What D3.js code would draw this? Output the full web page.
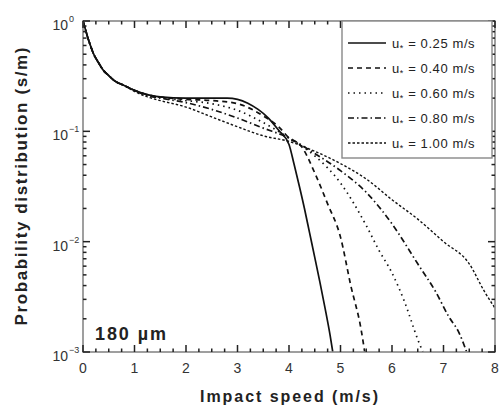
<!DOCTYPE html>
<html>
<head>
<meta charset="utf-8">
<script src="https://cdn.jsdelivr.net/npm/d3@7"></script>
<style>
  html, body { margin: 0; padding: 0; background: #fff; }
  svg { display: block; font-family: "Liberation Sans", Arial, sans-serif; }
</style>
</head>
<body>
<svg id="chart" width="501" height="408"></svg>
<script>
// Impact speed distribution of 180 µm grains for several friction velocities
const frictionVelocities = ["0.25", "0.40", "0.60", "0.80", "1.00"];

const speeds025 = [0, 0.05, 0.1, 0.15, 0.2, 0.3, 0.4, 0.5, 0.6, 0.8, 1.0, 1.25, 1.5, 2.0, 2.5, 2.8, 3.0, 3.2, 3.4, 3.6, 3.8, 4.0, 4.1, 4.2, 4.3, 4.4, 4.5, 4.6, 4.7, 4.8, 4.85];
const prob025   = [1.0, 0.83, 0.69, 0.59, 0.51, 0.42, 0.355, 0.32, 0.29, 0.26, 0.235, 0.215, 0.205, 0.20, 0.20, 0.20, 0.195, 0.18, 0.158, 0.132, 0.102, 0.076, 0.050, 0.032, 0.020, 0.012, 0.0072, 0.0043, 0.0025, 0.0014, 0.001];

const speeds040 = [0, 0.05, 0.1, 0.15, 0.2, 0.3, 0.4, 0.5, 0.6, 0.8, 1.0, 1.25, 1.5, 2.0, 2.5, 3.0, 3.5, 3.8, 4.0, 4.25, 4.5, 4.75, 5.0, 5.2, 5.4, 5.47];
const prob040   = [1.0, 0.83, 0.69, 0.59, 0.51, 0.42, 0.355, 0.32, 0.29, 0.26, 0.235, 0.215, 0.205, 0.195, 0.19, 0.178, 0.138, 0.11, 0.087, 0.072, 0.042, 0.022, 0.011, 0.004, 0.0016, 0.001];

const speeds060 = [0, 0.05, 0.1, 0.15, 0.2, 0.3, 0.4, 0.5, 0.6, 0.8, 1.0, 1.25, 1.5, 2.0, 2.5, 3.0, 3.5, 4.0, 4.5, 5.0, 5.5, 5.75, 6.0, 6.25, 6.5, 6.6];
const prob060   = [1.0, 0.83, 0.69, 0.59, 0.51, 0.42, 0.355, 0.32, 0.29, 0.26, 0.235, 0.215, 0.203, 0.19, 0.178, 0.155, 0.12, 0.087, 0.06, 0.034, 0.014, 0.0083, 0.0052, 0.0028, 0.0013, 0.001];

const speeds080 = [0, 0.05, 0.1, 0.15, 0.2, 0.3, 0.4, 0.5, 0.6, 0.8, 1.0, 1.25, 1.5, 2.0, 2.5, 3.0, 3.5, 4.0, 4.5, 5.0, 5.5, 6.0, 6.5, 6.85, 7.1, 7.3, 7.45];
const prob080   = [1.0, 0.83, 0.69, 0.59, 0.51, 0.42, 0.355, 0.32, 0.29, 0.26, 0.235, 0.21, 0.20, 0.182, 0.158, 0.132, 0.107, 0.087, 0.063, 0.044, 0.028, 0.0145, 0.0063, 0.0035, 0.0021, 0.0015, 0.001];

const speeds100 = [0, 0.05, 0.1, 0.15, 0.2, 0.3, 0.4, 0.5, 0.6, 0.8, 1.0, 1.25, 1.5, 2.0, 2.5, 3.0, 3.5, 4.0, 4.5, 5.0, 5.5, 6.0, 6.5, 7.0, 7.5, 7.8, 8.0];
const prob100   = [1.0, 0.83, 0.69, 0.59, 0.51, 0.42, 0.355, 0.32, 0.29, 0.26, 0.23, 0.205, 0.19, 0.166, 0.135, 0.11, 0.091, 0.081, 0.066, 0.051, 0.037, 0.024, 0.016, 0.010, 0.0063, 0.0035, 0.0025];

const xTicks = [0, 1, 2, 3, 4, 5, 6, 7, 8];
const yTickExponents = [0, -1, -2, -3];

const series = [
  { u: frictionVelocities[0], x: speeds025, y: prob025, dash: null, width: 1.7 },
  { u: frictionVelocities[1], x: speeds040, y: prob040, dash: "5,4", width: 1.7 },
  { u: frictionVelocities[2], x: speeds060, y: prob060, dash: "1.5,4", width: 1.7 },
  { u: frictionVelocities[3], x: speeds080, y: prob080, dash: "6,3,1.5,3", width: 1.7 },
  { u: frictionVelocities[4], x: speeds100, y: prob100, dash: "2.5,2", width: 1.4 }
];

const svg = d3.select("#chart");
const plotLeft = 83, plotRight = 495, plotTop = 21, plotBottom = 352;

const x = d3.scaleLinear().domain([0, 8]).range([plotLeft, plotRight]);
const y = d3.scaleLog().domain([1e-3, 1]).range([plotBottom, plotTop]);

const frameColor = "#888";
const tickColor = "#222";

// Curves
const line = d3.line().x(d => x(d[0])).y(d => y(d[1])).curve(d3.curveMonotoneX);
svg.append("clipPath").attr("id", "plot-clip")
  .append("rect").attr("x", plotLeft).attr("y", plotTop - 2)
  .attr("width", plotRight - plotLeft).attr("height", plotBottom - plotTop + 2);

const curves = svg.append("g").attr("clip-path", "url(#plot-clip)");
series.forEach(s => {
  curves.append("path")
    .datum(d3.zip(s.x, s.y))
    .attr("d", line)
    .attr("fill", "none")
    .attr("stroke", "#111")
    .attr("stroke-width", s.width)
    .attr("stroke-dasharray", s.dash);
});

// Plot frame
svg.append("rect")
  .attr("x", plotLeft).attr("y", plotTop)
  .attr("width", plotRight - plotLeft).attr("height", plotBottom - plotTop)
  .attr("fill", "none").attr("stroke", frameColor).attr("stroke-width", 1.6);

// Inward ticks on all four sides, drawn as small rects so they stay crisp
const minorX = d3.range(0, 8.001, 0.25).filter(v => Math.abs(v - Math.round(v)) > 1e-6);
const majorY = yTickExponents.map(e => Math.pow(10, e));
const minorY = [];
for (let e = -3; e < 0; e++) for (let m = 2; m <= 9; m++) minorY.push(m * Math.pow(10, e));

const tickG = svg.append("g").attr("fill", tickColor);
function vTicks(values, len) {
  values.forEach(v => {
    tickG.append("rect").attr("x", x(v) - 0.75).attr("y", plotBottom - len).attr("width", 1.5).attr("height", len);
    tickG.append("rect").attr("x", x(v) - 0.75).attr("y", plotTop).attr("width", 1.5).attr("height", len);
  });
}
function hTicks(values, len) {
  values.forEach(v => {
    tickG.append("rect").attr("x", plotLeft).attr("y", y(v) - 0.75).attr("width", len).attr("height", 1.5);
    tickG.append("rect").attr("x", plotRight - len).attr("y", y(v) - 0.75).attr("width", len).attr("height", 1.5);
  });
}
vTicks(xTicks, 7);
vTicks(minorX, 3.5);
hTicks(majorY, 7);
hTicks(minorY, 3.5);

// X tick labels
svg.append("g").selectAll("text").data(xTicks).join("text")
  .attr("x", d => x(d)).attr("y", plotBottom + 21)
  .attr("text-anchor", "middle")
  .attr("font-size", 14).attr("fill", "#333")
  .text(d => d);

// Y tick labels as powers of ten
const yl = svg.append("g");
yTickExponents.forEach(e => {
  const yy = y(Math.pow(10, e));
  yl.append("text")
    .attr("x", plotLeft - 15).attr("y", yy + 9)
    .attr("text-anchor", "end")
    .attr("font-size", 14).attr("fill", "#333")
    .text("10");
  yl.append("text")
    .attr("x", plotLeft - 14).attr("y", yy + 1)
    .attr("font-size", 9).attr("fill", "#333")
    .text(e === 0 ? "0" : "\u2212" + Math.abs(e));
});

// Axis titles
svg.append("text")
  .attr("x", (plotLeft + plotRight) / 2).attr("y", 402)
  .attr("text-anchor", "middle")
  .attr("font-size", 16).attr("font-weight", "bold").attr("fill", "#222")
  .attr("textLength", 178).attr("lengthAdjust", "spacing")
  .text("Impact speed (m/s)");

svg.append("text")
  .attr("transform", `translate(27,${(plotTop + plotBottom) / 2}) rotate(-90)`)
  .attr("text-anchor", "middle")
  .attr("font-size", 17).attr("font-weight", "bold").attr("fill", "#222")
  .attr("textLength", 278).attr("lengthAdjust", "spacing")
  .text("Probability distribution (s/m)");

// Grain size annotation
svg.append("text")
  .attr("x", 95).attr("y", 340)
  .attr("font-size", 18).attr("font-weight", "bold").attr("fill", "#222")
  .attr("textLength", 71).attr("lengthAdjust", "spacing")
  .text("180 \u00b5m");

// Legend
const lg = svg.append("g");
lg.append("rect")
  .attr("x", 342).attr("y", plotTop).attr("width", 150).attr("height", 137)
  .attr("fill", "#fff").attr("stroke", frameColor).attr("stroke-width", 1.4);
series.forEach((s, i) => {
  const yy = 43 + i * 25;
  lg.append("line")
    .attr("x1", 348).attr("x2", 386).attr("y1", yy).attr("y2", yy)
    .attr("stroke", "#111").attr("stroke-width", s.width)
    .attr("stroke-dasharray", s.dash);
  const t = lg.append("text")
    .attr("x", 392).attr("y", yy + 5)
    .attr("font-size", 13).attr("fill", "#222")
    .attr("letter-spacing", 0.6);
  t.append("tspan").text("u");
  t.append("tspan").attr("font-size", 9).attr("dy", 3).text("*");
  t.append("tspan").attr("dy", -3).text(" = " + s.u + " m/s");
});
</script>
</body>
</html>
